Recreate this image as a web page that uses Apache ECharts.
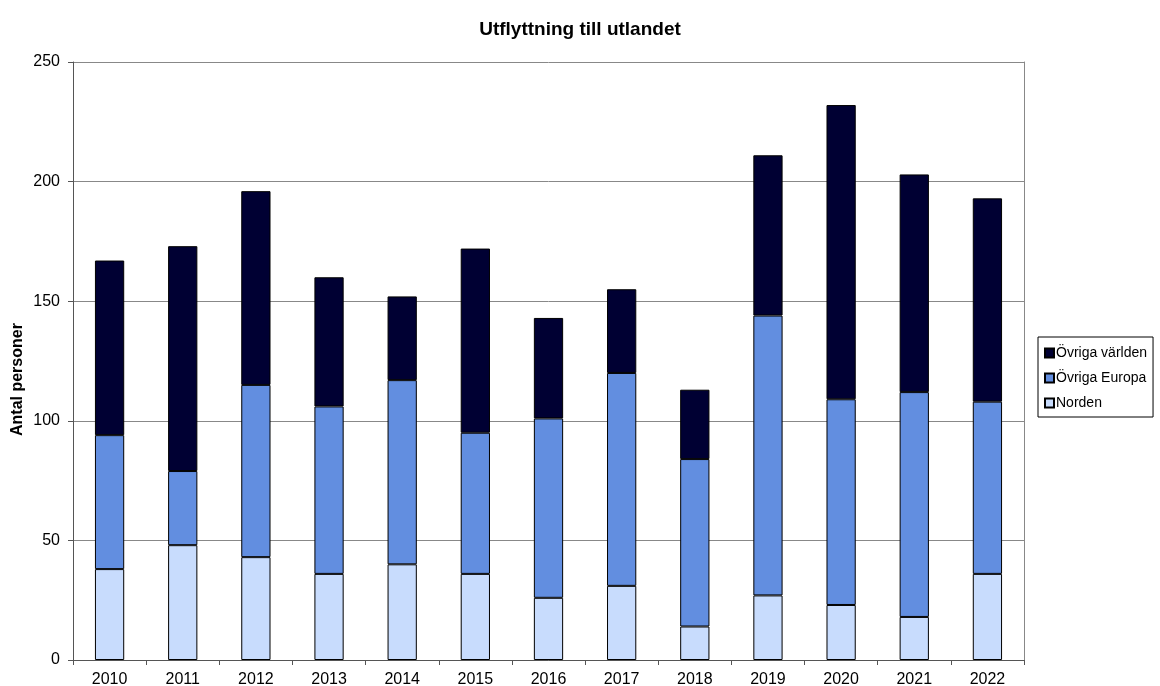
<!DOCTYPE html>
<html><head><meta charset="utf-8">
<script src="https://cdn.jsdelivr.net/npm/echarts@6/dist/echarts.min.js"></script>
<style>html,body{margin:0;padding:0;background:#fff}#c{width:1160px;height:686px}</style>
</head><body><div id="c"></div>
<script>
const categories = ['2010','2011','2012','2013','2014','2015','2016','2017','2018','2019','2020','2021','2022'];
const norden = [38,48,43,36,40,36,26,31,14,27,23,18,36];
const europaTop = [94,79,115,106,117,95,101,120,84,144,109,112,108];
const totals = [167,173,196,160,152,172,143,155,113,211,232,203,193];
const ovrigaEuropa = europaTop.map((v,i)=>v-norden[i]);
const ovrigaVarlden = totals.map((v,i)=>v-europaTop[i]);
const yTicks = [0,50,100,150,200,250];

const font = 'Liberation Sans, Arial, sans-serif';
const chart = echarts.init(document.getElementById('c'));
const mk = (name, data, color) => ({
  name, type:'bar', stack:'s', data, barWidth:'40%',
  itemStyle:{color, borderColor:'#000', borderWidth:1}
});
chart.setOption({
  animation:false,
  title:{text:'Utflyttning till utlandet', left:'center', top:15,
    textStyle:{fontFamily:font, fontSize:19, fontWeight:'bold', color:'#000'}},
  grid:{left:73, right:136, top:62, bottom:26, containLabel:false, outerBoundsMode:'none'},
  legend:{orient:'vertical', left:1038, top:337, data:['Övriga världen','Övriga Europa','Norden'],
    itemWidth:9, itemHeight:9, itemGap:9, borderColor:'#000', borderWidth:1,
    padding:[8,6,6,6], icon:'rect',
    textStyle:{fontFamily:font, fontSize:14, color:'#000', padding:[0,0,0,-3], lineHeight:16}},
  graphic:[{type:'text',
    style:{text:'Antal personer', fontFamily:font, fontSize:16, fontWeight:'bold', fill:'#000'},
    rotation:Math.PI/2, x:10, y:436}],
  xAxis:{type:'category', data:categories,
    axisLine:{lineStyle:{color:'#555'}},
    axisTick:{show:true, alignWithLabel:false, length:5, lineStyle:{color:'#555'}},
    axisLabel:{fontFamily:font, fontSize:16, color:'#000', margin:12},
    splitLine:{show:false}},
  yAxis:[{type:'value', min:yTicks[0], max:yTicks[yTicks.length-1], interval:50,
    axisLine:{show:true, lineStyle:{color:'#555'}},
    axisTick:{show:true, length:5, lineStyle:{color:'#555'}},
    axisLabel:{fontFamily:font, fontSize:16, color:'#000', margin:13},
    splitLine:{lineStyle:{color:'#888'}}},
   {type:'value', min:0, max:250, position:'right', axisLine:{show:true, lineStyle:{color:'#888'}},
    axisTick:{show:false}, axisLabel:{show:false}, splitLine:{show:false}}],
  series:[
    mk('Norden', norden, '#c8dcfd'),
    mk('Övriga Europa', ovrigaEuropa, '#628ee0'),
    mk('Övriga världen', ovrigaVarlden, '#000033')
  ]
});
</script></body></html>
